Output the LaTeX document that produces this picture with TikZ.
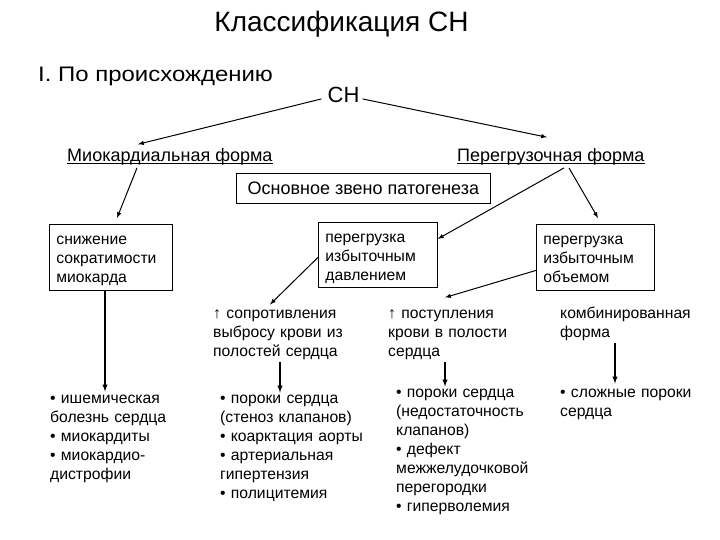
\documentclass[tikz,border=0pt]{standalone}
\usepackage{fontspec}
\setmainfont{Liberation Sans}
\newfontfamily\widesans[FakeStretch=1.14]{Liberation Sans}
\usetikzlibrary{arrows}

\tikzset{
  lbl/.style={inner sep=0pt, anchor=base west},
  txt/.style={font=\fontsize{15.7}{19}\selectfont, align=left, text width=150pt, inner sep=0pt,
    anchor=base west, execute at begin node=\strut, execute at end node=\strut},
  box/.style={draw, line width=0.8pt, font=\fontsize{15.7}{19}\selectfont, align=left,
    anchor=north west, inner xsep=7pt, inner ysep=0pt,
    execute at begin node={\rule{0pt}{18.5pt}}, execute at end node=\strut},
  arr/.style={-latex, line width=1pt},
  varr/.style={-latex, line width=1.4pt},
}

\begin{document}
\begin{tikzpicture}[x=1pt, y=-1pt]
    \fill[white] (0,0) rectangle (720,540);
    \node[font=\fontsize{28}{32}\selectfont, inner sep=0pt, anchor=base] (title) at (341.5,32) {Классификация СН};
    \node[lbl, font=\widesans\fontsize{21}{24}\selectfont] (origin) at (38,82) {I. По происхождению};
    \node[font=\fontsize{22}{24}\selectfont, inner xsep=6pt, inner ysep=0pt, anchor=base] (ch) at (343.5,103) {СН};

    \node[lbl, font=\fontsize{18}{20}\selectfont] (mio) at (67,162) {Миокардиальная форма};
    \node[lbl, font=\fontsize{18}{20}\selectfont] (per) at (457,162) {Перегрузочная форма};
    \draw[line width=0.8pt] ([yshift=-1.8pt]mio.base west) -- ([yshift=-1.8pt]mio.base east);
    \draw[line width=0.8pt] ([yshift=-1.8pt]per.base west) -- ([yshift=-1.8pt]per.base east);
    \node[draw, line width=0.8pt, font=\fontsize{18}{20}\selectfont, minimum width=254pt, minimum height=30pt,
      inner sep=0pt, anchor=north west] (osnov) at (236,173) {Основное звено патогенеза};

    \node[box, text width=109pt, minimum height=66pt] (snizh) at (49,224) {снижение\\сократимости\\миокарда};
    \node[box, text width=105pt, minimum height=65pt] (davl) at (318,222) {перегрузка\\избыточным\\давлением};
    \node[box, text width=104pt, minimum height=66pt] (obyem) at (536,224) {перегрузка\\избыточным\\объемом};

    \node[txt] (sopr) at (213,318) {↑ сопротивления\\выбросу крови из\\полостей сердца};
    \node[txt] (post) at (388,318) {↑ поступления\\крови в полости\\сердца};
    \node[txt] (komb) at (560,318) {комбинированная\\форма};

    \node[txt] (list1) at (50,403) {• ишемическая\\болезнь сердца\\• миокардиты\\• миокардио-\\дистрофии};
    \node[txt] (list2) at (220,403) {• пороки сердца\\(стеноз клапанов)\\• коарктация аорты\\• артериальная\\гипертензия\\• полицитемия};
    \node[txt] (list3) at (396,397) {• пороки сердца\\(недостаточность\\клапанов)\\• дефект\\межжелудочковой\\перегородки\\• гиперволемия};
    \node[txt] (list4) at (560,397) {• сложные пороки\\сердца};

    \draw[arr] ([yshift=-3.5pt]ch.west) -- ([xshift=71pt,yshift=4.5pt]mio.north west);
    \draw[arr] ([xshift=-3pt,yshift=-3.5pt]ch.east) -- ([xshift=90pt,yshift=11.5pt]per.north west);
    \draw[arr] ([xshift=70pt,yshift=-2pt]mio.south west) -- ([xshift=68pt,yshift=6pt]snizh.north west);
    \draw[arr] ([xshift=107pt,yshift=-2pt]per.south west) -- ([yshift=16pt]davl.east);
    \draw[arr] ([xshift=112pt,yshift=-2pt]per.south west) -- ([xshift=62pt,yshift=6pt]obyem.north west);
    \draw[arr] ([yshift=-2.5pt]davl.west) -- ([xshift=57pt]sopr.north west);
    \draw[arr] ([yshift=-13pt]obyem.west) -- ([xshift=57pt,yshift=7pt]post.north west);

    % vertical links down to the lists
    \draw[varr, shorten >=-2pt] ([xshift=56pt]snizh.south west) coordinate (s1) -- (s1 |- list1.north);
    \draw[varr, shorten >=-3pt] ([xshift=67pt]sopr.south west) coordinate (s2) -- (s2 |- list2.north);
    \draw[varr, shorten >=-3pt] ([xshift=57pt]post.south west) coordinate (s3) -- (s3 |- list3.north);
    \draw[varr] ([xshift=55pt]komb.south west) coordinate (s4) -- (s4 |- list4.north);
\end{tikzpicture}
\end{document}
